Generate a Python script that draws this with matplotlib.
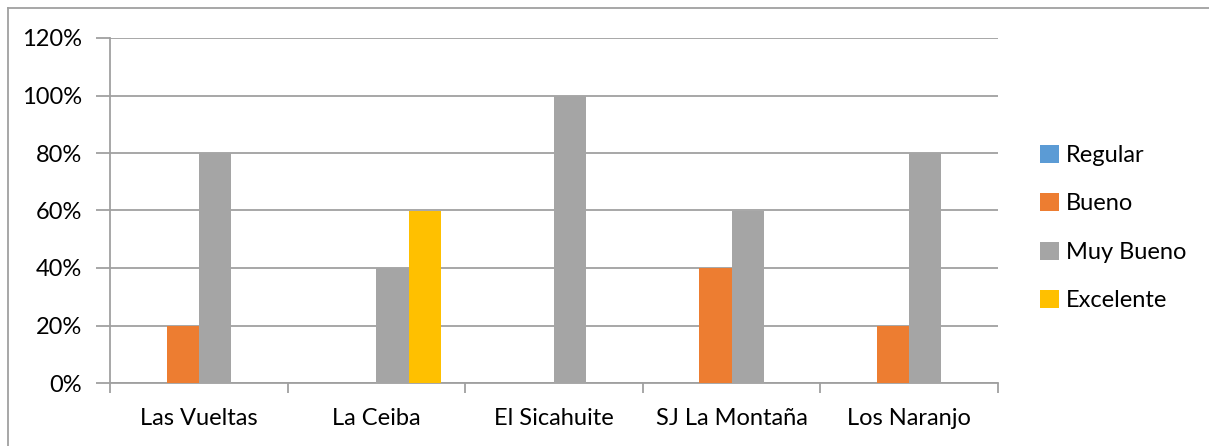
import numpy as np
import matplotlib.pyplot as plt
from matplotlib.lines import Line2D

plt.rcParams['font.family'] = ['Lato', 'DejaVu Sans']

categories = ['Las Vueltas', 'La Ceiba', 'El Sicahuite', 'SJ La Montaña', 'Los Naranjo']
series = ['Regular', 'Bueno', 'Muy Bueno', 'Excelente']
regular = [0, 0, 0, 0, 0]
bueno = [0.20, 0, 0, 0.40, 0.20]
muy_bueno = [0.80, 0.40, 1.00, 0.60, 0.80]
excelente = [0, 0.60, 0, 0, 0]
colors = ['#5B9BD5', '#ED7D31', '#A5A5A5', '#FFC000']

W, H = 1209, 446
fig = plt.figure(figsize=(W / 100, H / 100), dpi=100)
ax = fig.add_axes([110 / W, 1 - 383 / H, 888 / W, 345 / H])

grid_c = '#A0A0A0'
x = np.arange(len(categories))
w = 1 / 5.5
values = [regular, bueno, muy_bueno, excelente]
for i, (name, vals) in enumerate(zip(series, values)):
    ax.bar(x + (i - 1.5) * w, vals, width=w, color=colors[i], label=name, zorder=3)

ax.set_xlim(-0.5, len(categories) - 0.5)
ax.set_ylim(0, 1.2)
yt = np.arange(0, 1.21, 0.2)
ax.set_yticks(yt)
ax.set_yticklabels(['{:.0f}%'.format(v * 100) for v in yt])
ax.set_xticks(x)
ax.set_xticklabels(categories)
ax.set_xticks(np.arange(-0.5, len(categories), 1), minor=True)
ax.tick_params(axis='x', which='major', length=0, pad=18, labelsize=17)
ax.tick_params(axis='x', which='minor', length=7, width=1.3, color=grid_c, direction='out')
ax.tick_params(axis='y', length=10, width=1.3, color=grid_c, pad=10, labelsize=17)
ax.grid(axis='y', color=grid_c, linewidth=1.3, zorder=0)
for s in ['top', 'right']:
    ax.spines[s].set_visible(False)
for s in ['left', 'bottom']:
    ax.spines[s].set_color(grid_c)
    ax.spines[s].set_linewidth(1.3)

leg = fig.legend(loc='center left', bbox_to_anchor=(1019 / W, 1 - 228 / H),
                 frameon=False, fontsize=17, handlelength=0.8, handleheight=0.8,
                 handletextpad=0.3, labelspacing=1.15)

# outer frame (only top and left edges visible in the image)
fig.add_artist(Line2D([8 / W, 1], [1 - 8 / H, 1 - 8 / H], color=grid_c, linewidth=1.3))
fig.add_artist(Line2D([8 / W, 8 / W], [0, 1 - 8 / H], color=grid_c, linewidth=1.3))

fig.savefig('out.png', dpi=100)
